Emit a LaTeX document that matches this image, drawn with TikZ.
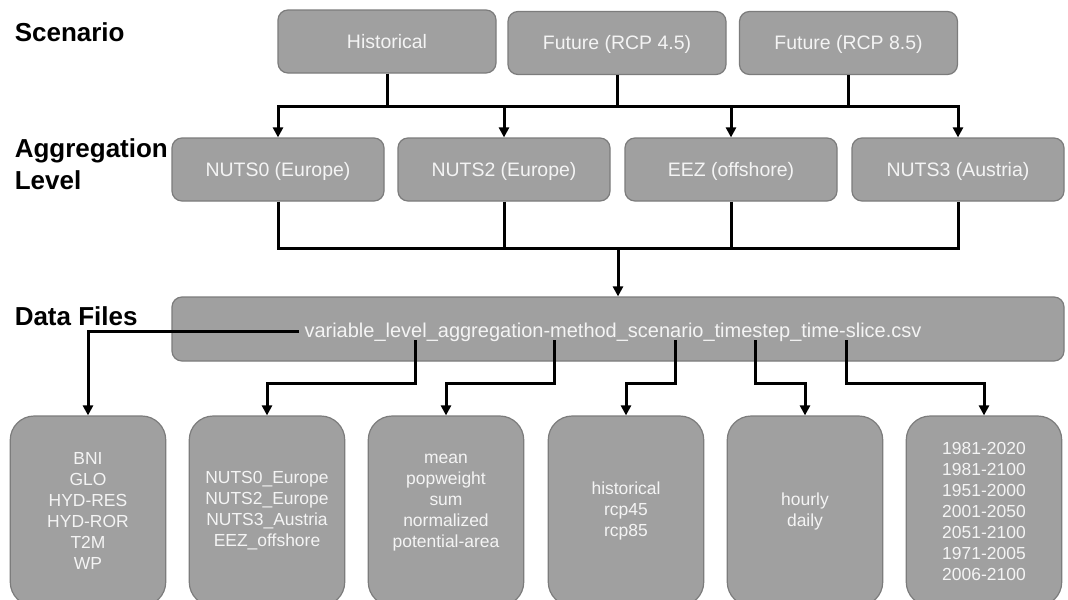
\documentclass[tikz,border=0pt]{standalone}
\usepackage{fontspec}
\setmainfont{Liberation Sans}
\usetikzlibrary{arrows.meta}
\definecolor{boxfill}{HTML}{A0A0A0}
\definecolor{boxdraw}{HTML}{7C7C7C}
\definecolor{boxtext}{HTML}{F4F4F4}
\tikzset{
  gbox/.style={draw=boxdraw, line width=0.9pt, fill=boxfill, text=boxtext, inner sep=0pt},
  topbox/.style={gbox, rounded corners=7.5pt, minimum width=163.5pt, minimum height=47.25pt,
    font=\fontsize{14.6}{17}\selectfont, text height=10.45pt, text depth=0pt},
  aggbox/.style={topbox, minimum width=159pt},
  databox/.style={gbox, rounded corners=7.5pt, minimum width=669pt, minimum height=48pt},
  datatext/.style={text=boxtext, font=\fontsize{15}{18}\selectfont, anchor=base, inner sep=0pt},
  leafbox/.style={gbox, rounded corners=18pt, minimum width=116.6pt, minimum height=142.5pt,
    align=center, font=\fontsize{13.1}{15.75}\selectfont},
  rowlabel/.style={font=\fontsize{19.5}{23}\selectfont\bfseries, text=black, anchor=base west, inner sep=0pt},
  conn/.style={line width=2.25pt, black},
  arr/.style={conn, -{Triangle[length=7.5pt,width=7.5pt]}}
}
\begin{document}
\begin{tikzpicture}[x=0.75pt,y=-0.75pt]
\clip (0,0) rectangle (1068,600);
\fill[white] (0,0) rectangle (1068,600);

% row labels
\node[rowlabel] (lscen) at (14.5,41) {Scenario};
\node[rowlabel] (lagg1) at (14.5,157) {Aggregation};
\node[rowlabel] (lagg2) at (14.5,189) {Level};
\node[rowlabel] (ldata) at (14.5,325) {Data Files};

% scenario boxes
\node[topbox] (hist) at (387,41.5) {Historical};
\node[topbox] (f45) at (617,43) {Future (RCP 4.5)};
\node[topbox] (f85) at (848.5,43) {Future (RCP 8.5)};

% aggregation boxes
\node[aggbox] (n0) at (278,169.5) {NUTS0 (Europe)};
\node[aggbox] (n1) at (504,169.5) {NUTS2 (Europe)};
\node[aggbox] (n2) at (731,169.5) {EEZ (offshore)};
\node[aggbox] (n3) at (958,169.5) {NUTS3 (Austria)};

% data file box
\node[databox] (df) at (618,329) {};
\node[datatext] (dft) at (613,337) {variable\_level\_aggregation-method\_scenario\_timestep\_time-slice.csv};

% leaf boxes
\node[leafbox] (b1) at (88,511) {BNI\\GLO\\HYD-RES\\HYD-ROR\\T2M\\WP};
\node[leafbox] (b2) at (267,511) {NUTS0\_Europe\\NUTS2\_Europe\\NUTS3\_Austria\\EEZ\_offshore};
\node[leafbox] (b3) at (446,511) {mean\\popweight\\sum\\normalized\\potential-area\\\mbox{}};
\node[leafbox] (b4) at (626,511) {historical\\rcp45\\rcp85};
\node[leafbox] (b5) at (805,511) {hourly\\daily};
\node[leafbox] (b6) at (984,511) {1981-2020\\1981-2100\\1951-2000\\2001-2050\\2051-2100\\1971-2005\\2006-2100};

% buses
\coordinate (busA) at (0,106);
\coordinate (busB) at (0,248);

% scenario -> aggregation
\draw[arr] (hist) |- (n0|-busA) -- (n0);
\draw[arr] (hist) |- (n3|-busA) -- (n3);
\draw[conn] (f45) -- (f45|-busA);
\draw[conn] (f85) -- (f85|-busA);
\draw[arr] (n1|-busA) -- (n1);
\draw[arr] (n2|-busA) -- (n2);

% aggregation -> data files
\draw[conn] (n0) |- (n3|-busB) -- (n3);
\draw[conn] (n1) -- (n1|-busB);
\draw[conn] (n2) -- (n2|-busB);
\draw[arr] (df|-busB) -- (df);

% data file parts -> leaves
\coordinate (s1) at (299,331);
\coordinate (s2) at (415,340);
\coordinate (s3) at (554,340);
\coordinate (s4) at (675,340);
\coordinate (s5) at (755,340);
\coordinate (s6) at (846,340);
\draw[arr] (s1) -| (b1);
\draw[arr] (s2) -- ++(0,43) -| (b2);
\draw[arr] (s3) -- ++(0,43) -| (b3);
\draw[arr] (s4) -- ++(0,43) -| (b4);
\draw[arr] (s5) -- ++(0,43) -| (b5);
\draw[arr] (s6) -- ++(0,43) -| (b6);
\end{tikzpicture}
\end{document}
